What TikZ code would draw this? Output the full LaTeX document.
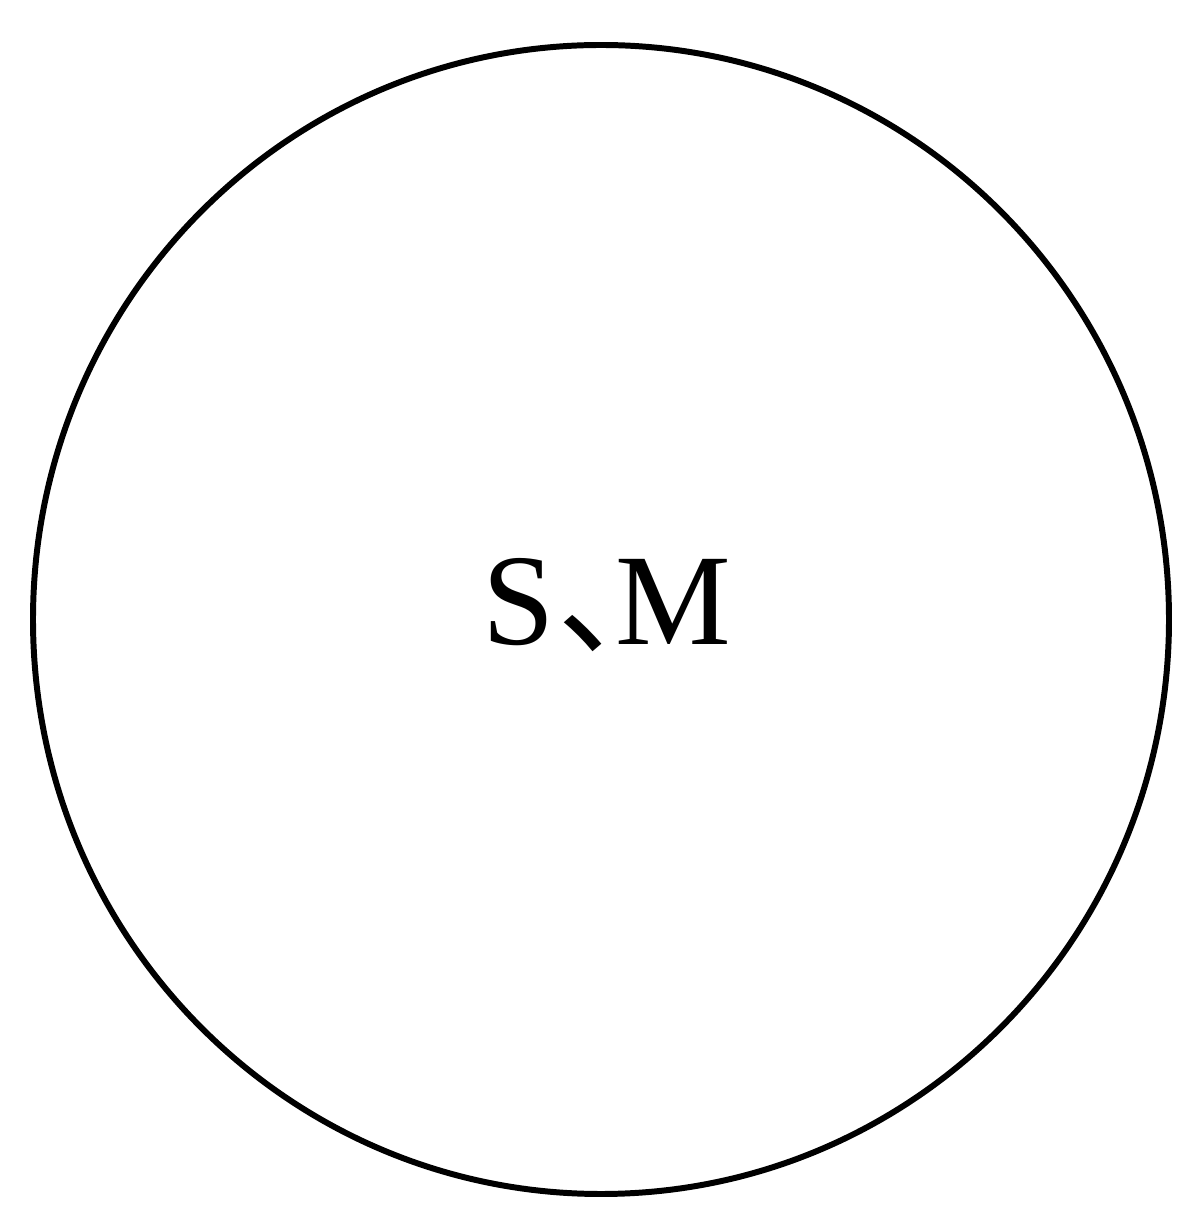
\documentclass[tikz,border=0pt]{standalone}
\usepackage{fontspec}
\setmainfont{Liberation Serif}
\newfontfamily\cjk{Noto Sans CJK SC}
\usetikzlibrary{shapes.geometric}
\tikzset{
  ring/.style={ellipse, draw, line width=1.7pt, minimum width=11.36cm,
               minimum height=11.49cm, inner sep=0pt},
  setname/.style={font=\fontsize{37}{40}\selectfont, anchor=base, inner sep=0pt},
}

\begin{document}
\begin{tikzpicture}
  \useasboundingbox (0,0) rectangle (11.78,12.09);

  \node[ring] (set) at (6.01,5.895) {};
  \node[setname] (name) at (6.07,5.64)
    {S\kern0.02em{\cjk 、}\kern-0.55em M};

\end{tikzpicture}
\end{document}
